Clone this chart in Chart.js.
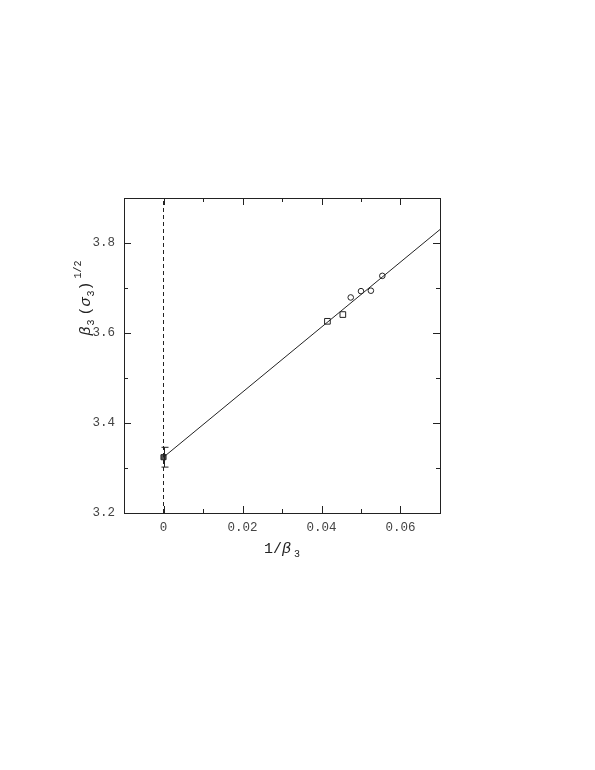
<!DOCTYPE html>
<html>
<head>
<meta charset="utf-8">
<script src="https://cdn.jsdelivr.net/npm/chart.js@4/dist/chart.umd.min.js"></script>
<style>
  html, body { margin: 0; padding: 0; background: #fff; }
  #wrap { width: 595px; height: 770px; }
</style>
</head>
<body>
<div id="wrap"><canvas id="chart" width="595" height="770"></canvas></div>
<script>
// ================= DATA =================

const squareX = [0.0415, 0.0454];
const squareY = [3.626, 3.641];

const circleX = [0.0474, 0.0500, 0.0525, 0.0554];
const circleY = [3.679, 3.693, 3.694, 3.727];

// extrapolated value at 1/beta = 0 with error
const extrapX = [0];
const extrapY = [3.324];
const extrapErr = [0.022];

// straight line fit
const fitX = [0, 0.07];
const fitY = [3.324, 3.830];

const xMajor = [0, 0.02, 0.04, 0.06];
const xMinor = [-0.01, 0.01, 0.03, 0.05, 0.07];
const yMajor = [3.2, 3.4, 3.6, 3.8];
const yMinor = [3.3, 3.5, 3.7, 3.9];

const xRange = [-0.01, 0.07];
const yRange = [3.2, 3.9];

// ================= HELPERS =================

const FONT = "'Liberation Mono', 'DejaVu Sans Mono', monospace";
const INK = "#222";

function pts(xs, ys) {
  return xs.map((x, i) => ({ x: x, y: ys[i] }));
}

// ticks inside the frame, on all four sides
const frameTicks = {
  id: "frameTicks",
  afterDraw(chart) {
    const { ctx, chartArea: a, scales: { x, y } } = chart;
    ctx.save();
    ctx.strokeStyle = INK;
    ctx.lineWidth = 1;
    ctx.beginPath();
    const vt = (list, len) => list.forEach(v => {
      const px = Math.round(x.getPixelForValue(v)) + 0.5;
      ctx.moveTo(px, a.bottom); ctx.lineTo(px, a.bottom - len);
      ctx.moveTo(px, a.top); ctx.lineTo(px, a.top + len);
    });
    const ht = (list, len) => list.forEach(v => {
      const py = Math.round(y.getPixelForValue(v)) + 0.5;
      ctx.moveTo(a.left, py); ctx.lineTo(a.left + len, py);
      ctx.moveTo(a.right, py); ctx.lineTo(a.right - len, py);
    });
    vt(xMajor, 7); vt(xMinor, 4);
    ht(yMajor, 7); ht(yMinor, 4);
    ctx.stroke();
    ctx.strokeRect(a.left + 0.5, a.top + 0.5, a.right - a.left, a.bottom - a.top);
    ctx.restore();
  }
};

// error bar on the extrapolated point
const errorBars = {
  id: "errorBars",
  afterDatasetsDraw(chart) {
    const { ctx, scales: { x, y } } = chart;
    ctx.save();
    ctx.strokeStyle = INK;
    ctx.lineWidth = 1;
    ctx.beginPath();
    extrapX.forEach((v, i) => {
      const px = Math.round(x.getPixelForValue(v)) + 0.5;
      const top = y.getPixelForValue(extrapY[i] + extrapErr[i]);
      const bot = y.getPixelForValue(extrapY[i] - extrapErr[i]);
      ctx.moveTo(px, top); ctx.lineTo(px, bot);
      ctx.moveTo(px - 3, top); ctx.lineTo(px + 4, top);
      ctx.moveTo(px - 3, bot); ctx.lineTo(px + 4, bot);
    });
    ctx.stroke();
    ctx.restore();
  }
};

// axis titles with subscripts / superscripts
const axisTitles = {
  id: "axisTitles",
  afterDraw(chart) {
    const { ctx, chartArea: a } = chart;
    ctx.save();
    ctx.fillStyle = INK;
    ctx.textBaseline = "alphabetic";

    // x title: 1/β3
    const cx = (a.left + a.right) / 2;
    ctx.font = "15px " + FONT;
    ctx.textAlign = "left";
    ctx.fillText("1/", cx - 18, a.bottom + 40);
    const w1 = ctx.measureText("1/").width;
    ctx.font = "italic 15px " + FONT;
    ctx.fillText("\u03b2", cx - 18 + w1, a.bottom + 40);
    const w2 = ctx.measureText("\u03b2").width;
    ctx.font = "10px " + FONT;
    ctx.fillText("3", cx - 18 + w1 + w2 + 3, a.bottom + 44);

    // y title: β3 (σ3)^1/2, rotated
    ctx.translate(a.left - 34, (a.top + a.bottom) / 2 - 62);
    ctx.rotate(-Math.PI / 2);
    let px = -42;
    const seg = (txt, size, dy, gap, style) => {
      ctx.font = (style || "") + size + "px " + FONT;
      ctx.fillText(txt, px, dy);
      px += ctx.measureText(txt).width + (gap || 0);
    };
    seg("\u03b2", 15, 0, 1, "italic ");
    seg("3", 10, 4, 4);
    seg("(", 15, 0, 0);
    seg("\u03c3", 15, 0, 1, "italic ");
    seg("3", 10, 4, 0);
    seg(")", 15, 0, 3);
    seg("1/2", 10, -9, 0);
    ctx.restore();
  }
};

// ================= CHART =================

new Chart(document.getElementById("chart"), {
  type: "scatter",
  data: {
    datasets: [
      {
        type: "line",
        data: pts([0, 0], yRange),
        borderColor: INK,
        borderWidth: 1,
        borderDash: [4, 3],
        pointRadius: 0,
        fill: false
      },
      {
        type: "line",
        data: pts(fitX, fitY),
        borderColor: INK,
        borderWidth: 1,
        pointRadius: 0,
        fill: false
      },
      {
        data: pts(squareX, squareY),
        pointStyle: "rect",
        pointRadius: 4,
        borderColor: INK,
        borderWidth: 1,
        backgroundColor: "rgba(0,0,0,0)"
      },
      {
        data: pts(circleX, circleY),
        pointStyle: "circle",
        pointRadius: 2.8,
        borderColor: INK,
        borderWidth: 1,
        backgroundColor: "rgba(0,0,0,0)"
      },
      {
        data: pts(extrapX, extrapY),
        pointStyle: "rect",
        pointRadius: 3.6,
        borderColor: INK,
        borderWidth: 1,
        backgroundColor: "#555"
      }
    ]
  },
  options: {
    responsive: false,
    animation: false,
    events: [],
    layout: { padding: { top: 198, right: 155, bottom: 227, left: 84 } },
    plugins: { legend: { display: false }, tooltip: { enabled: false } },
    scales: {
      x: {
        type: "linear",
        min: xRange[0],
        max: xRange[1],
        afterFit: s => { s.height = 30; },
        afterBuildTicks: s => { s.ticks = xMajor.map(v => ({ value: v })); },
        grid: { display: false, drawTicks: false },
        border: { display: false },
        ticks: {
          padding: 7,
          color: "#444",
          font: { family: FONT, size: 12.5 },
          maxRotation: 0,
          callback: v => String(v)
        }
      },
      y: {
        type: "linear",
        min: yRange[0],
        max: yRange[1],
        afterFit: s => { s.width = 40; },
        afterBuildTicks: s => { s.ticks = yMajor.map(v => ({ value: v })); },
        grid: { display: false, drawTicks: false },
        border: { display: false },
        ticks: {
          padding: 9,
          color: "#444",
          font: { family: FONT, size: 12.5 },
          callback: v => v.toFixed(1)
        }
      }
    }
  },
  plugins: [frameTicks, errorBars, axisTitles]
});
</script>
</body>
</html>
